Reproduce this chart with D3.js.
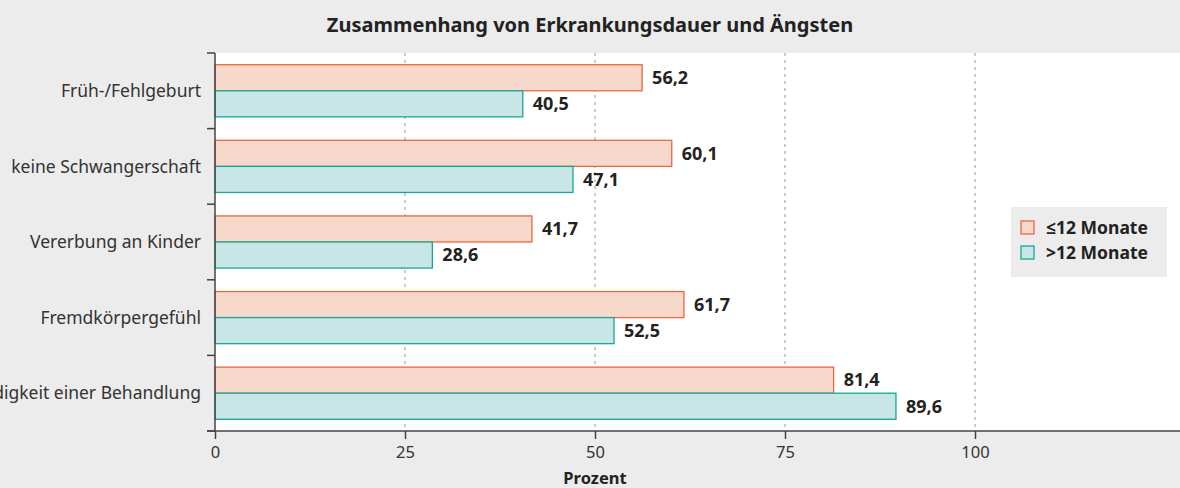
<!DOCTYPE html>
<html>
<head>
<meta charset="utf-8">
<script src="https://cdn.jsdelivr.net/npm/d3@7"></script>
<style>
  body { margin: 0; background: #ebeceb; }
  svg { display: block; font-family: "Noto Sans", "Open Sans", sans-serif; }
</style>
</head>
<body>
<svg id="chart" width="1180" height="488"></svg>
<script>
// data
var categories = ["Früh-/Fehlgeburt", "keine Schwangerschaft", "Vererbung an Kinder", "Fremdkörpergefühl", "Notwendigkeit einer Behandlung"];
var shortTerm = [56.2, 60.1, 41.7, 61.7, 81.4];   // ≤12 Monate
var longTerm = [40.5, 47.1, 28.6, 52.5, 89.6];    // >12 Monate
var seriesNames = ["≤12 Monate", ">12 Monate"];
var xTicks = [0, 25, 50, 75, 100];

var fills = ["#f6d9cb", "#c8e6e5"],
    strokes = ["#e8673f", "#1aa59a"];

var svg = d3.select("#chart");
var m = {left: 215, top: 53, right: 0, bottom: 57};
var W = 1180, H = 488;

// title
svg.append("text")
  .attr("x", 590).attr("y", 32)
  .attr("text-anchor", "middle")
  .attr("font-size", 20).attr("font-weight", "bold").attr("fill", "#222")
  .text("Zusammenhang von Erkrankungsdauer und Ängsten");

var x = d3.scaleLinear().domain([0, 100]).range([m.left, m.left + 760]);
var y = d3.scaleBand().domain(categories).range([m.top, H - m.bottom]);
var sub = d3.scaleBand().domain([0, 1]).range([0, y.bandwidth()]).paddingOuter(0.45);

// white plot area
svg.append("rect")
  .attr("x", m.left).attr("y", m.top)
  .attr("width", W - m.left).attr("height", H - m.bottom - m.top)
  .attr("fill", "#fff");

// grid lines
svg.append("g").selectAll("line")
  .data(xTicks.slice(1))
  .join("line")
  .attr("x1", d => x(d)).attr("x2", d => x(d))
  .attr("y1", m.top).attr("y2", H - m.bottom)
  .attr("stroke", "#aaa").attr("stroke-width", 1.2)
  .attr("stroke-dasharray", "3,4");

var rows = categories.map(function(c, i) {
  return {cat: c, vals: [shortTerm[i], longTerm[i]]};
});

var g = svg.append("g").selectAll("g")
  .data(rows)
  .join("g")
  .attr("transform", d => "translate(0," + y(d.cat) + ")");

g.selectAll("rect")
  .data(d => d.vals.map((v, k) => ({v: v, k: k})))
  .join("rect")
  .attr("x", x(0))
  .attr("y", d => sub(d.k))
  .attr("width", d => x(d.v) - x(0))
  .attr("height", sub.bandwidth())
  .attr("fill", d => fills[d.k])
  .attr("stroke", d => strokes[d.k])
  .attr("stroke-width", 1.3);

g.selectAll("text")
  .data(d => d.vals.map((v, k) => ({v: v, k: k})))
  .join("text")
  .attr("x", d => x(d.v) + 10)
  .attr("y", d => sub(d.k) + sub.bandwidth() / 2)
  .attr("dy", "0.35em")
  .attr("font-size", 18).attr("font-weight", "bold").attr("fill", "#222")
  .text(d => d3.format(".1f")(d.v).replace(".", ","));

// y axis with ticks at band edges
var yEdges = categories.map(c => y(c)).concat([y.range()[1]]);
var ya = svg.append("g");
ya.append("line")
  .attr("x1", m.left).attr("x2", m.left)
  .attr("y1", m.top).attr("y2", H - m.bottom)
  .attr("stroke", "#444").attr("stroke-width", 1.5);
ya.selectAll(".tk").data(yEdges).join("line")
  .attr("x1", m.left - 8).attr("x2", m.left)
  .attr("y1", d => d).attr("y2", d => d)
  .attr("stroke", "#444").attr("stroke-width", 1.5);
ya.selectAll("text").data(categories).join("text")
  .attr("x", m.left - 14)
  .attr("y", d => y(d) + y.bandwidth() / 2)
  .attr("dy", "0.35em")
  .attr("text-anchor", "end")
  .attr("font-size", 17.5).attr("fill", "#333")
  .text(d => d);

// x axis
var xa = svg.append("g")
  .attr("transform", "translate(0," + (H - m.bottom) + ")")
  .call(d3.axisBottom(x).tickValues(xTicks).tickSize(8).tickSizeOuter(0));
xa.select(".domain").attr("d", "M" + (m.left - 8) + ",0H" + W).attr("stroke", "#444").attr("stroke-width", 1.5);
xa.selectAll(".tick line").attr("stroke", "#444").attr("stroke-width", 1.5);
xa.selectAll(".tick text").attr("font-size", 16.5).attr("fill", "#333").attr("font-family", "Noto Sans").attr("dy", "0.95em");

svg.append("text")
  .attr("x", x(50)).attr("y", 484)
  .attr("text-anchor", "middle")
  .attr("font-size", 16.5).attr("font-weight", "bold").attr("fill", "#222")
  .text("Prozent");

// legend
var lg = svg.append("g").attr("transform", "translate(1011,207)");
lg.append("rect").attr("width", 156).attr("height", 70).attr("fill", "#ebeceb");
seriesNames.forEach(function(n, k) {
  lg.append("rect")
    .attr("x", 10).attr("y", 14 + k * 25)
    .attr("width", 13).attr("height", 13)
    .attr("fill", fills[k]).attr("stroke", strokes[k]).attr("stroke-width", 1.3);
  lg.append("text")
    .attr("x", 35).attr("y", 20.5 + k * 25)
    .attr("dy", "0.35em")
    .attr("font-size", 17.5).attr("font-weight", "bold").attr("fill", "#222")
    .text(n);
});
</script>
</body>
</html>
